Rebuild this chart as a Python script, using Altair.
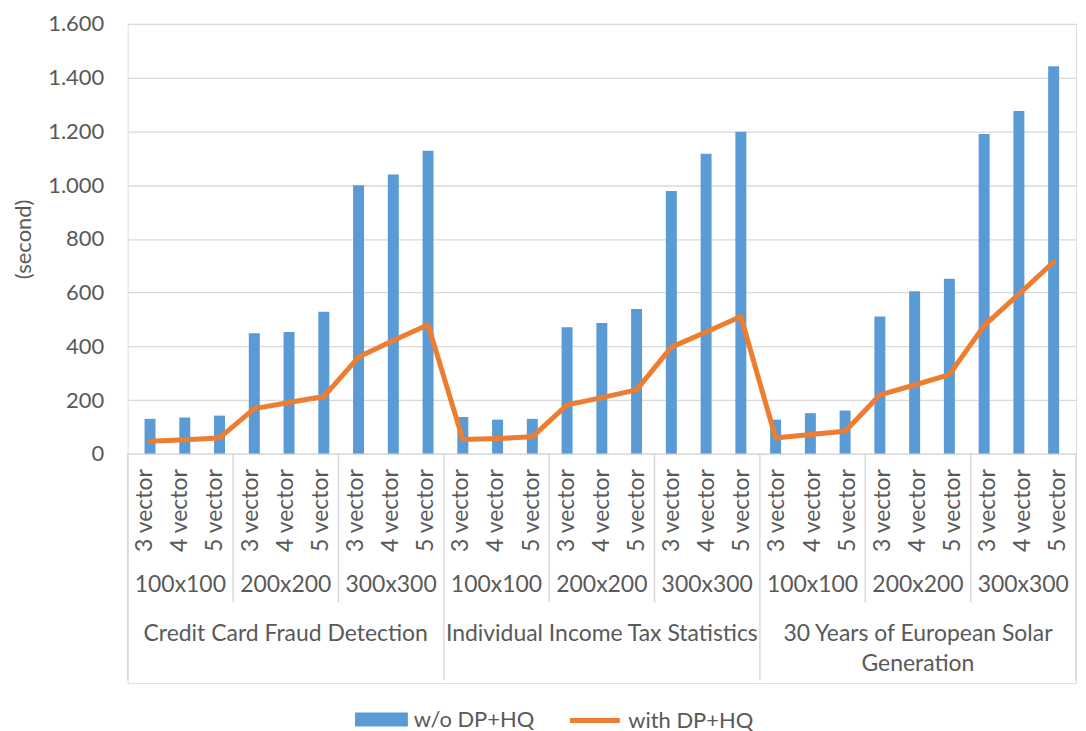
import altair as alt
import pandas as pd

# ---- data ----
datasets = ["Credit Card Fraud Detection", "Individual Income Tax Statistics",
            "30 Years of European Solar\nGeneration"]
sizes = ["100x100", "200x200", "300x300"]
vectors = ["3 vector", "4 vector", "5 vector"]
series = ["w/o DP+HQ", "with DP+HQ"]
wo_dphq = [130, 135, 142, 449, 453, 529, 1000, 1040, 1128,
           137, 127, 130, 471, 487, 539, 978, 1117, 1199,
           127, 151, 161, 511, 605, 652, 1190, 1276, 1443]
with_dphq = [47, 52, 59, 168, 191, 213, 360, 422, 480,
             53, 57, 63, 182, 209, 238, 397, 453, 511,
             59, 72, 84, 219, 256, 295, 477, 594, 714]
y_ticks = [0, 200, 400, 600, 800, 1000, 1200, 1400, 1600]

FONT = "Lato"
TXT = "#595959"
GRID = "#D9D9D9"
BLUE = "#5B9BD5"
ORANGE = "#ED7D31"
W = 951
H = 431
N = len(wo_dphq)
CAT_FS = 23

rows = []
for i in range(N):
    rows.append({"xc": i + 0.5, "wo": wo_dphq[i], "with": with_dphq[i],
                 "s1": series[0], "s2": series[1]})
df = pd.DataFrame(rows)

xscale = alt.Scale(domain=[0, N], nice=False, zero=False)

bars = alt.Chart(df).mark_bar(size=11).encode(
    x=alt.X("xc:Q", scale=xscale, axis=None),
    y=alt.Y("wo:Q", scale=alt.Scale(domain=[0, 1600], nice=False),
            axis=alt.Axis(values=y_ticks, title="(second)",
                          labelExpr="replace(format(datum.value, ','), ',', '.')",
                          labelFont=FONT, labelFontSize=22, labelColor=TXT,
                          labelPadding=24, ticks=False, domain=False,
                          gridColor=GRID, gridWidth=1.3,
                          titleFont=FONT, titleFontSize=22, titleColor=TXT,
                          titleFontWeight="normal", titlePadding=12)),
    color=alt.Color("s1:N", scale=alt.Scale(domain=[series[0]], range=[BLUE]),
                    legend=alt.Legend(orient="none", legendX=228, legendY=671,
                                      symbolType="M-1,-0.264H1V0.264H-1Z",
                                      symbolSize=2809, title=None, padding=0,
                                      labelFont=FONT, labelFontSize=22,
                                      labelColor=TXT, labelOffset=6,
                                      symbolStrokeWidth=0)),
)

line = alt.Chart(df).mark_line(strokeWidth=5, strokeCap="round", strokeJoin="round").encode(
    x=alt.X("xc:Q", scale=xscale, axis=None),
    y=alt.Y("with:Q"),
    stroke=alt.Stroke("s2:N", scale=alt.Scale(domain=[series[1]], range=[ORANGE]),
                      legend=alt.Legend(orient="none", legendX=441, legendY=671,
                                        symbolType="stroke", symbolSize=2500,
                                        symbolStrokeWidth=5, title=None, padding=0,
                                        labelFont=FONT, labelFontSize=22,
                                        labelColor=TXT, labelOffset=6)),
)

top = alt.layer(bars, line).properties(width=W, height=H)

# ---- hierarchical category axis ----
vec_df = pd.DataFrame([{"xc": i + 0.5, "label": vectors[i % 3], "v": 57} for i in range(N)])
size_df = pd.DataFrame([{"xc": g * 3 + 1.5, "label": sizes[g % 3], "v": 132}
                        for g in range(N // 3)])
ds_df = pd.DataFrame([{"xc": d * 9 + 4.5, "label": datasets[d], "v": 170}
                      for d in range(len(datasets))])
div_df = pd.DataFrame([{"x": k * 3, "v": 0, "v2": 227 if k % 3 == 0 else 149}
                       for k in range(N // 3 + 1)])

yb = alt.Scale(domain=[0, 230], reverse=True, nice=False, zero=False)

vec_txt = alt.Chart(vec_df).mark_text(angle=270, align="center", baseline="middle",
                                      font=FONT, fontSize=CAT_FS, color=TXT).encode(
    x=alt.X("xc:Q", scale=xscale, axis=None),
    y=alt.Y("v:Q", scale=yb, axis=None),
    text="label:N",
)
size_txt = alt.Chart(size_df).mark_text(align="center", baseline="middle",
                                        font=FONT, fontSize=CAT_FS, color=TXT).encode(
    x=alt.X("xc:Q", scale=xscale, axis=None),
    y=alt.Y("v:Q", scale=yb, axis=None),
    text="label:N",
)
ds_txt = alt.Chart(ds_df).mark_text(align="center", baseline="top", lineBreak="\n",
                                    lineHeight=30, font=FONT, fontSize=CAT_FS,
                                    color=TXT).encode(
    x=alt.X("xc:Q", scale=xscale, axis=None),
    y=alt.Y("v:Q", scale=yb, axis=None),
    text="label:N",
)
dividers = alt.Chart(div_df).mark_rule(color=GRID, strokeWidth=1.5).encode(
    x=alt.X("x:Q", scale=xscale, axis=None),
    y=alt.Y("v:Q", scale=yb, axis=None),
    y2="v2:Q",
)

bottom = alt.layer(dividers, vec_txt, size_txt, ds_txt).properties(width=W, height=230)

chart = alt.vconcat(top, bottom, spacing=0, bounds="flush").resolve_scale(
    color="independent", stroke="independent"
).properties(
    padding={"left": 4, "top": 3, "right": 0, "bottom": 0}
).configure_view(stroke=None).configure(background="white")

chart.save("out.html", embed_options={"renderer": "svg", "actions": False})
